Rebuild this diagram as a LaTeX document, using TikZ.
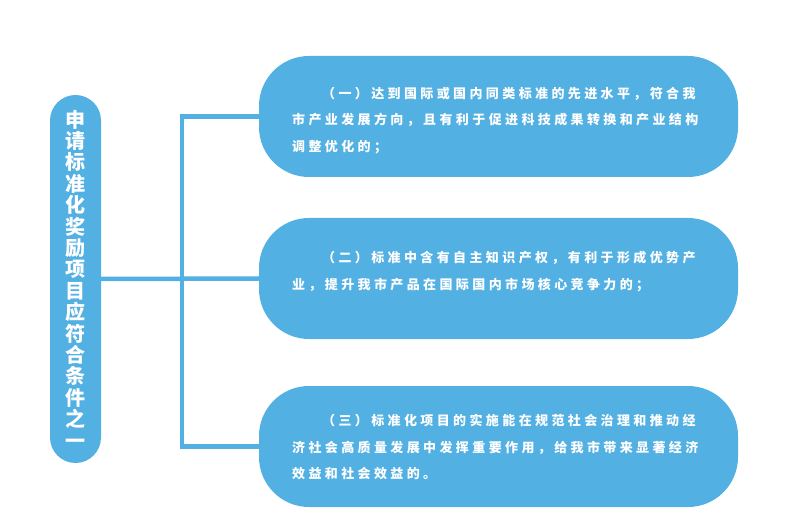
\documentclass[tikz,border=0pt]{standalone}
\usepackage{fontspec}
\newfontfamily\cjk{Noto Sans CJK SC}
\definecolor{sky}{HTML}{52B0E3}
\begin{document}
\begin{tikzpicture}[x=1pt,y=-1pt,
  box/.style={fill=sky, draw=none, rounded corners=50pt, minimum width=479pt, minimum height=121pt, inner sep=0pt},
  pill/.style={fill=sky, draw=none, rounded corners=25.5pt, minimum width=51pt, minimum height=368pt, inner sep=0pt, text=white, font=\cjk\bfseries\fontsize{20}{21.4}\selectfont, align=center},
  body/.style={text=white, font=\cjk\bfseries\addfontfeatures{LetterSpace=26}\fontsize{13}{26.5}\selectfont, align=left, anchor=north west, inner sep=0pt},
  link/.style={draw=sky, line width=4.5pt}]
\useasboundingbox (0,0) rectangle (787,521);
\node[pill] (pill) at (75.5,279) {申\\请\\标\\准\\化\\奖\\励\\项\\目\\应\\符\\合\\条\\件\\之\\一};
\node[box] (b1) at (498.5,116.5) {};
\node[box] (b2) at (498.5,278.5) {};
\node[box] (b3) at (498.5,446.5) {};
\coordinate (trunk) at (182,0);
\draw[link] (pill.east) -- (b2.west);
\draw[link] (b1.west) -- (b1.west -| trunk) -- (b3.west -| trunk) -- (b3.west);
\node[body] (t1) at (292,87) {\hspace*{30pt}（一）达到国际或国内同类标准的先进水平，符合我\\市产业发展方向，且有利于促进科技成果转换和产业结构\\调整优化的；};
\node[body] (t2) at (292,251) {\hspace*{30pt}（二）标准中含有自主知识产权，有利于形成优势产\\业，提升我市产品在国际国内市场核心竞争力的；};
\node[body] (t3) at (292,414) {\hspace*{30pt}（三）标准化项目的实施能在规范社会治理和推动经\\济社会高质量发展中发挥重要作用，给我市带来显著经济\\效益和社会效益的。};
\end{tikzpicture}
\end{document}
